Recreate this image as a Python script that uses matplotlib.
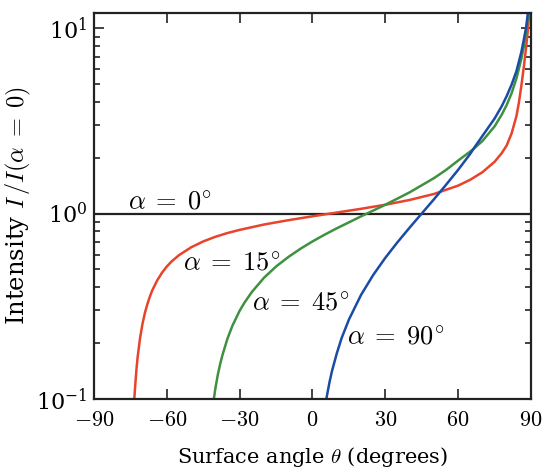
"""Relative intensity of a tilted surface versus surface angle, for several
illumination angles alpha (log scale)."""
import matplotlib

matplotlib.use("Agg")
import matplotlib.pyplot as plt
from matplotlib.ticker import FixedLocator, LogLocator, NullFormatter

RED = "#E8432B"
GREEN = "#3E9140"
BLUE = "#1A4CA6"

plt.rcParams.update({
    "font.family": "serif",
    "font.serif": ["DejaVu Serif"],
    "mathtext.fontset": "cm",
    "font.size": 15,
})

# alpha = 15 deg
theta_15 = [-73.4, -73.2, -73, -72.5, -72, -71, -70, -69, -68, -67, -66, -64,
            -62, -60, -58, -55, -50, -45, -40, -35, -30, -20, -10, 0, 10, 20,
            30, 40, 50, 60, 65, 70, 75, 78, 80, 82, 84, 85, 86, 87, 88, 88.8,
            89.3]
inten_15 = [0.100, 0.109, 0.119, 0.145, 0.169, 0.214, 0.255, 0.292, 0.325,
            0.356, 0.385, 0.435, 0.479, 0.518, 0.552, 0.596, 0.657, 0.707,
            0.749, 0.785, 0.816, 0.872, 0.920, 0.966, 1.012, 1.060, 1.115,
            1.183, 1.274, 1.414, 1.521, 1.670, 1.900, 2.120, 2.330, 2.700,
            3.350, 3.950, 4.850, 6.100, 7.900, 10.00, 12.30]

# alpha = 45 deg
theta_45 = [-40.6, -40.3, -40, -39, -38, -37, -35, -33, -30, -28, -25, -20,
            -15, -10, -5, 0, 5, 10, 20, 30, 40, 50, 55, 60, 65, 67, 70, 75, 78,
            80, 82, 84, 86, 87, 88, 88.5, 89.0]
inten_45 = [0.101, 0.107, 0.114, 0.135, 0.155, 0.174, 0.212, 0.248, 0.299,
            0.331, 0.377, 0.450, 0.518, 0.582, 0.645, 0.707, 0.769, 0.832,
            0.965, 1.115, 1.300, 1.550, 1.717, 1.930, 2.160, 2.270, 2.460,
            2.950, 3.420, 3.850, 4.450, 5.350, 6.800, 7.900, 9.600, 10.80,
            12.30]

# alpha = 90 deg
theta_90 = [5.71, 6, 7, 8, 10, 12, 15, 20, 25, 30, 35, 40, 45, 50, 55, 60, 65,
            67, 70, 75, 78, 80, 82, 84, 86, 87, 88, 88.8]
inten_90 = [0.100, 0.105, 0.123, 0.141, 0.176, 0.213, 0.268, 0.364, 0.466,
            0.577, 0.700, 0.839, 1.000, 1.192, 1.428, 1.720, 2.100, 2.300,
            2.620, 3.250, 3.800, 4.300, 4.950, 5.850, 7.400, 8.600, 10.10,
            12.30]

fig = plt.figure(figsize=(5.42, 4.71), dpi=100)
ax = fig.add_axes([0.1734, 0.1529, 0.8063, 0.8195])

ax.axhline(1.0, color="#222222", lw=1.6, zorder=1)
ax.plot(theta_15, inten_15, color=RED, lw=1.8)
ax.plot(theta_45, inten_45, color=GREEN, lw=1.8)
ax.plot(theta_90, inten_90, color=BLUE, lw=1.8)

ax.set_yscale("log")
ax.set_xlim(-90, 90)
ax.set_ylim(0.1, 12.05)
ax.xaxis.set_major_locator(FixedLocator([-90, -60, -30, 0, 30, 60, 90]))
ax.set_xticklabels([r"$-90$", r"$-60$", r"$-30$", r"$0$", r"$30$", r"$60$",
                    r"$90$"])
ax.yaxis.set_major_locator(LogLocator(base=10))
ax.yaxis.set_minor_locator(LogLocator(base=10, subs=range(2, 10)))
ax.yaxis.set_minor_formatter(NullFormatter())

for side in ax.spines.values():
    side.set_linewidth(1.6)
    side.set_color("#222222")
ax.tick_params(which="both", direction="in", top=True, right=True,
               width=1.2, color="#222222", labelsize=16)
ax.tick_params(axis="x", which="major", length=7, pad=7)
ax.tick_params(axis="y", which="major", length=7, pad=5)
ax.tick_params(which="minor", length=4)

ax.set_xlabel(r"Surface angle $\theta$ (degrees)", fontsize=15)
ax.xaxis.set_label_coords(0.5, -0.118)
ax.set_ylabel(r"Intensity $I\,/I(\alpha\;=\;0)$", fontsize=17.5)
ax.yaxis.set_label_coords(-0.14, 0.5)

label_kw = dict(fontsize=19, ha="left", va="center")
ax.text(-76, 1.16, r"$\alpha\;=\;0^{\circ}$", **label_kw)
ax.text(-53.4, 0.54, r"$\alpha\;=\;15^{\circ}$", **label_kw)
ax.text(-25, 0.33, r"$\alpha\;=\;45^{\circ}$", **label_kw)
ax.text(14.4, 0.216, r"$\alpha\;=\;90^{\circ}$", **label_kw)

fig.savefig("out.png", dpi=100)
